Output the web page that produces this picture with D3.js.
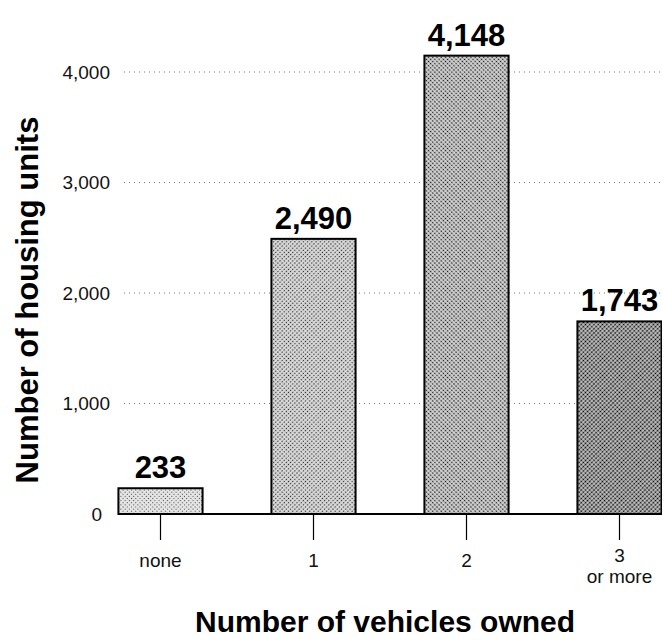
<!DOCTYPE html>
<html>
<head>
<meta charset="utf-8">
<script src="https://cdn.jsdelivr.net/npm/d3@7"></script>
<style>
  html, body { margin: 0; padding: 0; background: #fff; }
  svg { display: block; font-family: "Liberation Sans", Arial, Helvetica, sans-serif; }
</style>
</head>
<body>
<div id="chart"></div>
<script>
// ========================================
// DATA
// ========================================
const categories = ['none', '1', '2', '3'];
const categoryLabels = [['none'], ['1'], ['2'], ['3', 'or more']];
const housingUnits = [233, 2490, 4148, 1743];
const yTicks = [0, 1000, 2000, 3000, 4000];

// halftone shades, lightest to darkest (one per bar)
const shades = [
    { bg: '#e4e4e4', dot: '#333', r: 0.55 },
    { bg: '#d8d8d8', dot: '#222', r: 0.65 },
    { bg: '#cfcfcf', dot: '#111', r: 0.8 },
    { bg: '#c4c4c4', dot: '#000', r: 0.9 },
];

const width = 662;
const height = 641;
const baseY = 514;

const svg = d3.select('#chart').append('svg')
    .attr('width', width).attr('height', height);

// Patterns (dot screen like the printed original)
const defs = svg.append('defs');
shades.forEach((s, i) => {
    const p = defs.append('pattern')
        .attr('id', 'dots' + i)
        .attr('patternUnits', 'userSpaceOnUse')
        .attr('width', 3).attr('height', 3)
        .attr('patternTransform', 'rotate(45)');
    p.append('rect').attr('width', 3).attr('height', 3).attr('fill', s.bg);
    p.append('circle').attr('cx', 1.5).attr('cy', 1.5).attr('r', s.r).attr('fill', s.dot);
});

// Scales
const x = d3.scaleBand()
    .domain(categories)
    .range([84, 696])
    .paddingInner(0.45)
    .paddingOuter(0.225);

const y = d3.scaleLinear()
    .domain([0, 4000])
    .range([baseY, 72]);

// Gridlines (faint dotted, behind bars)
svg.append('g')
    .selectAll('line')
    .data(yTicks.filter(d => d > 0)).enter()
    .append('line')
    .attr('x1', 124).attr('x2', width)
    .attr('y1', d => y(d)).attr('y2', d => y(d))
    .attr('stroke', '#777')
    .attr('stroke-width', 1)
    .attr('stroke-dasharray', '1,4');

// Y axis: labels only
const yAxis = svg.append('g')
    .attr('transform', 'translate(110,0)')
    .call(d3.axisLeft(y).tickValues(yTicks).tickSize(0).tickPadding(0).tickFormat(d3.format(',')));
yAxis.select('.domain').remove();
yAxis.selectAll('text')
    .attr('font-size', '19px')
    .attr('font-family', '"Liberation Sans", Arial, sans-serif')
    .attr('fill', '#111')
    .attr('dx', d => d === 0 ? -8 : 0);

// Bars
svg.append('g')
    .selectAll('rect')
    .data(housingUnits).enter()
    .append('rect')
    .attr('x', (d, i) => x(categories[i]))
    .attr('y', d => y(d))
    .attr('width', x.bandwidth())
    .attr('height', d => baseY - y(d))
    .attr('fill', (d, i) => `url(#dots${i})`)
    .attr('stroke', '#000')
    .attr('stroke-width', 2);

// Baseline
svg.append('line')
    .attr('x1', x(categories[0])).attr('x2', width)
    .attr('y1', baseY).attr('y2', baseY)
    .attr('stroke', '#000').attr('stroke-width', 2);

// Value labels
svg.append('g')
    .selectAll('text')
    .data(housingUnits).enter()
    .append('text')
    .attr('x', (d, i) => x(categories[i]) + x.bandwidth() / 2)
    .attr('y', d => y(d) - 10)
    .attr('text-anchor', 'middle')
    .attr('font-size', '31px')
    .attr('font-weight', 'bold')
    .attr('fill', '#000')
    .text(d => d3.format(',')(d));

// X axis: tick marks under bars + labels
const xAxis = svg.append('g')
    .attr('transform', `translate(0,${baseY})`)
    .call(d3.axisBottom(x).tickSize(26).tickFormat(''));
xAxis.select('.domain').remove();
xAxis.selectAll('.tick line').attr('stroke', '#000').attr('stroke-width', 1.2);

const xLabels = svg.append('g')
    .selectAll('text')
    .data(categories).enter()
    .append('text')
    .attr('x', d => x(d) + x.bandwidth() / 2)
    .attr('y', (d, i) => categoryLabels[i].length > 1 ? 562 : 567)
    .attr('text-anchor', 'middle')
    .attr('font-size', '19px')
    .attr('fill', '#111');
xLabels.each(function (d, i) {
    categoryLabels[i].forEach((line, j) => {
        d3.select(this).append('tspan')
            .attr('x', x(d) + x.bandwidth() / 2)
            .attr('dy', j === 0 ? 0 : 21)
            .text(line);
    });
});

// Axis titles
svg.append('text')
    .attr('x', 195).attr('y', 632)
    .attr('font-size', '30px')
    .attr('font-weight', 'bold')
    .attr('fill', '#000')
    .text('Number of vehicles owned');

svg.append('text')
    .attr('transform', 'translate(38,300) rotate(-90)')
    .attr('text-anchor', 'middle')
    .attr('font-size', '31px')
    .attr('font-weight', 'bold')
    .attr('fill', '#000')
    .text('Number of housing units');
</script>
</body>
</html>
